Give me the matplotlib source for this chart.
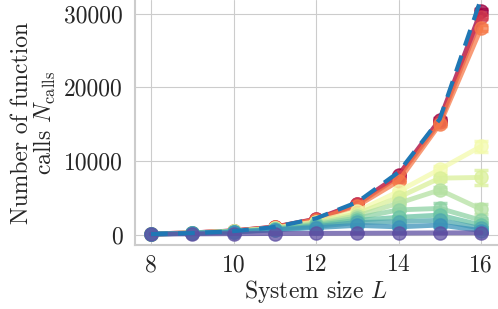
import numpy as np
import matplotlib
matplotlib.use("Agg")
import matplotlib.pyplot as plt
import seaborn as sns

# system sizes
L = [8, 9, 10, 11, 12, 13, 14, 15, 16]

# number of function calls per run (one list per parameter value)
calls_a = [150, 290, 560, 1080, 2150, 4250, 8100, 15600, 30300]
calls_b = [148, 285, 550, 1060, 2100, 4150, 7900, 15300, 29500]
calls_c = [145, 280, 540, 1040, 2050, 3950, 7300, 15000, 28000]
calls_d = [140, 270, 500, 950, 1800, 3200, 5900, 8900, 12000]
calls_e = [138, 265, 490, 920, 1700, 2900, 5100, 7700, 7800]
calls_f = [135, 260, 480, 880, 1600, 2600, 4300, 6100, 3500]
calls_g = [132, 255, 460, 840, 1450, 2300, 3400, 3600, 2000]
calls_h = [130, 250, 440, 790, 1300, 2000, 2400, 2700, 1350]
calls_i = [128, 240, 420, 740, 1150, 1700, 1800, 2000, 900]
calls_j = [125, 230, 400, 680, 1000, 1300, 1100, 1350, 600]
calls_k = [120, 150, 180, 200, 220, 240, 260, 290, 300]

# standard errors
err_a = [5, 8, 10, 15, 30, 60, 120, 200, 300]
err_b = [5, 8, 10, 15, 30, 60, 120, 200, 300]
err_c = [5, 8, 10, 15, 30, 60, 120, 250, 400]
err_d = [5, 8, 10, 20, 40, 80, 200, 500, 700]
err_e = [5, 8, 10, 20, 40, 80, 200, 400, 1000]
err_f = [5, 8, 10, 20, 40, 80, 200, 400, 700]
err_g = [5, 8, 10, 20, 40, 80, 200, 700, 300]
err_h = [5, 8, 10, 20, 40, 80, 200, 500, 300]
err_i = [5, 8, 10, 20, 30, 60, 150, 300, 200]
err_j = [5, 8, 10, 20, 30, 60, 150, 300, 200]
err_k = [2, 3, 4, 5, 6, 8, 10, 15, 20]

# reference scaling (dashed)
ref_calls = [125, 250, 520, 1080, 2250, 4450, 8500, 15700, 32000]

series = [calls_a, calls_b, calls_c, calls_d, calls_e, calls_f,
          calls_g, calls_h, calls_i, calls_j, calls_k]
errors = [err_a, err_b, err_c, err_d, err_e, err_f,
          err_g, err_h, err_i, err_j, err_k]
cpos = [0.0, 0.1, 0.22, 0.55, 0.62, 0.68, 0.74, 0.79, 0.84, 0.88, 1.0]

xticks = [8, 10, 12, 14, 16]
yticks = [0, 10000, 20000, 30000]

sns.set_style("whitegrid")
plt.rcParams['font.family'] = ['cmr10', 'DejaVu Serif']
plt.rcParams['mathtext.fontset'] = 'cm'
plt.rcParams['axes.formatter.use_mathtext'] = True
plt.rcParams['axes.unicode_minus'] = False

fig = plt.figure(figsize=(4.98, 3.09), dpi=100)
ax = fig.add_axes([134.5 / 498, 64 / 309, 363 / 498, 245 / 309])

cmap = plt.cm.Spectral
for vals, errs, c in zip(series, errors, cpos):
    ax.errorbar(L, vals, yerr=errs, color=cmap(c), marker='o', ms=9.5,
                lw=3.5, capsize=5, capthick=2.5, elinewidth=2.5, alpha=0.75,
                zorder=2)

ax.plot(L, ref_calls, color='#1f77b4', ls='--', lw=3, dashes=(4, 2.5), zorder=2.5)

ax.set_xlim(7.6, 16.4)
ax.set_ylim(-1354, 31830)
ax.set_xticks(xticks)
ax.set_yticks(yticks)
ax.set_xticklabels([str(t) for t in xticks])
ax.set_yticklabels([str(t) for t in yticks])
ax.tick_params(labelsize=17)
ax.tick_params(axis='x', pad=3)
ax.tick_params(axis='y', pad=5)
ax.set_xlabel(r"System size $L$", fontsize=17, labelpad=1)
ax.set_ylabel("Number of function\n" + r"calls $N_{\mathrm{calls}}$", fontsize=17,
              linespacing=0.95, labelpad=4)
sns.despine(ax=ax)
for s in ['left', 'bottom']:
    ax.spines[s].set_color('.8')
    ax.spines[s].set_linewidth(1.5)

fig.savefig("out.png", dpi=100)
